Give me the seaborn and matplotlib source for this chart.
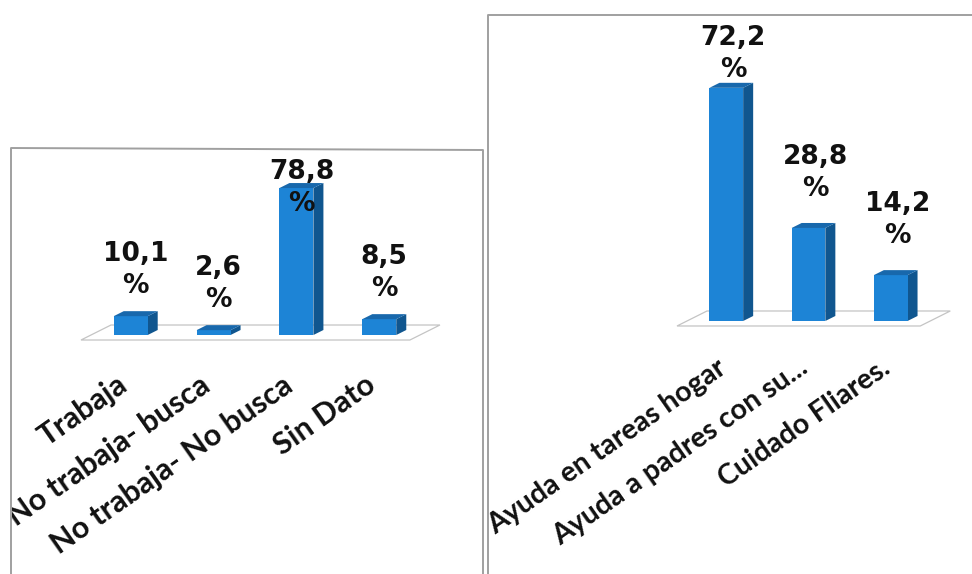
import matplotlib
matplotlib.use("Agg")
import matplotlib.pyplot as plt
import seaborn as sns
import pandas as pd
from matplotlib.patches import Polygon
from matplotlib.lines import Line2D
from matplotlib.transforms import Bbox, TransformedBbox

# ---------------- data ----------------
left_categories = ["Trabaja", "No trabaja- busca", "No trabaja- No busca", "Sin Dato"]
left_values = [10.1, 2.6, 78.8, 8.5]

right_categories = ["Ayuda en tareas hogar", "Ayuda a padres con su...", "Cuidado Fliares."]
right_values = [72.2, 28.8, 14.2]

# ---------------- style ----------------
sns.set_theme(style="white")
plt.rcParams['font.family'] = ['DejaVu Sans']

W, H = 972, 574
fig = plt.figure(figsize=(W / 100, H / 100), dpi=100)
fig.patch.set_facecolor("white")

FRONT = "#1D84D6"
SIDE = "#10568F"
TOP = "#1868AC"
FLOOR = "#c4c4c4"
BORDER = "#a0a0a0"


def px_axes(x0, y0, x1, y1):
    """axes placed with pixel coords (origin top-left)"""
    return fig.add_axes([x0 / W, 1 - y1 / H, (x1 - x0) / W, (y1 - y0) / H])


def draw_panel(ax, cats, vals, xlim, ylim, floor_right, label_off, label_dx,
               cap_below_top, clip_x, cat_off, cat_size):
    df = pd.DataFrame({"cat": cats, "val": vals})
    sns.barplot(data=df, x="cat", y="val", ax=ax, color=FRONT, saturation=1,
                width=0.41, edgecolor="none", zorder=3)
    ax.set_xlim(*xlim)
    ax.set_ylim(*ylim)
    ax.axis("off")

    to_disp = ax.transData
    to_data = ax.transData.inverted()

    def d2p(x, y):
        return to_disp.transform((x, y))

    def p2d(px, py):
        return to_data.transform((px, py))

    # floor parallelogram
    fl = d2p(xlim[0], 0)
    fr = d2p(floor_right, 0)
    pts = [(fl[0], fl[1] - 5), (fr[0], fr[1] - 5),
           (fr[0] + 30, fr[1] + 10), (fl[0] + 30, fl[1] + 10)]
    floor = Polygon([p2d(*p) for p in pts], closed=True, facecolor="white",
                    edgecolor=FLOOR, lw=0.9, zorder=1, clip_on=False,
                    transform=ax.transData)
    ax.add_patch(floor)

    # 3D side & top faces
    dx, dy = 10, 5
    for bar in list(ax.patches):
        if bar is floor:
            continue
        x0 = bar.get_x()
        w = bar.get_width()
        h = bar.get_height()
        br = d2p(x0 + w, 0)
        tl = d2p(x0, h)
        tr = d2p(x0 + w, h)
        side = [br, tr, (tr[0] + dx, tr[1] + dy), (br[0] + dx, br[1] + dy)]
        top = [tl, tr, (tr[0] + dx, tr[1] + dy), (tl[0] + dx, tl[1] + dy)]
        ax.add_patch(Polygon([p2d(*p) for p in side], closed=True, facecolor=SIDE,
                             edgecolor="none", zorder=2.5, clip_on=False,
                             transform=ax.transData))
        ax.add_patch(Polygon([p2d(*p) for p in top], closed=True, facecolor=TOP,
                             edgecolor="none", zorder=3.5, clip_on=False,
                             transform=ax.transData))

    # value labels
    top_px = ax.get_window_extent().y1
    for i, v in enumerate(vals):
        bx, by = d2p(i, v)
        cy = min(by + label_off, top_px - cap_below_top)
        lx, ly = p2d(bx + label_dx, cy)
        ax.text(lx, ly, f"{v:.1f}".replace(".", ",") + "\n%", ha="center",
                va="center", fontsize=19, fontweight="bold", color="#111111",
                linespacing=1.3, zorder=5, clip_on=False)

    # category labels (rotated)
    clip = TransformedBbox(Bbox([[clip_x[0] / W, 0], [clip_x[1] / W, 1]]),
                           fig.transFigure)
    for i, c in enumerate(cats):
        t = ax.annotate(c, xy=(i, 0), xytext=cat_off, textcoords="offset pixels",
                        rotation=35, ha="right", va="center",
                        rotation_mode="anchor", fontsize=cat_size, fontweight="bold",
                        family=["Lato", "DejaVu Sans"], color="#111111",
                        annotation_clip=False)
        t.set_clip_box(clip)
        t.set_clip_on(True)


# left panel
axL = px_axes(81, 150, 429, 345)
draw_panel(axL, left_categories, left_values,
           xlim=(-0.6, 3.6), ylim=(-5.36, 99.2), floor_right=3.37,
           label_off=46, label_dx=5, cap_below_top=38, clip_x=(12, 482),
           cat_off=(-7, -47), cat_size=22)

# right panel
axR = px_axes(677, 20, 940, 330)
draw_panel(axR, right_categories, right_values,
           xlim=(-0.6, 2.6), ylim=(-2.79, 93.2), floor_right=2.36,
           label_off=55, label_dx=7, cap_below_top=34, clip_x=(489, 972),
           cat_off=(-3, -44), cat_size=20.5)

# panel borders
def fig_line(xs, ys):
    fig.add_artist(Line2D([x / W for x in xs], [1 - y / H for y in ys],
                          transform=fig.transFigure, color=BORDER, lw=1.4))

fig_line([11, 11, 483, 483], [574, 148, 150, 574])
fig_line([488, 488, 972], [574, 15, 15])

fig.savefig("out.png", dpi=100, facecolor="white")
